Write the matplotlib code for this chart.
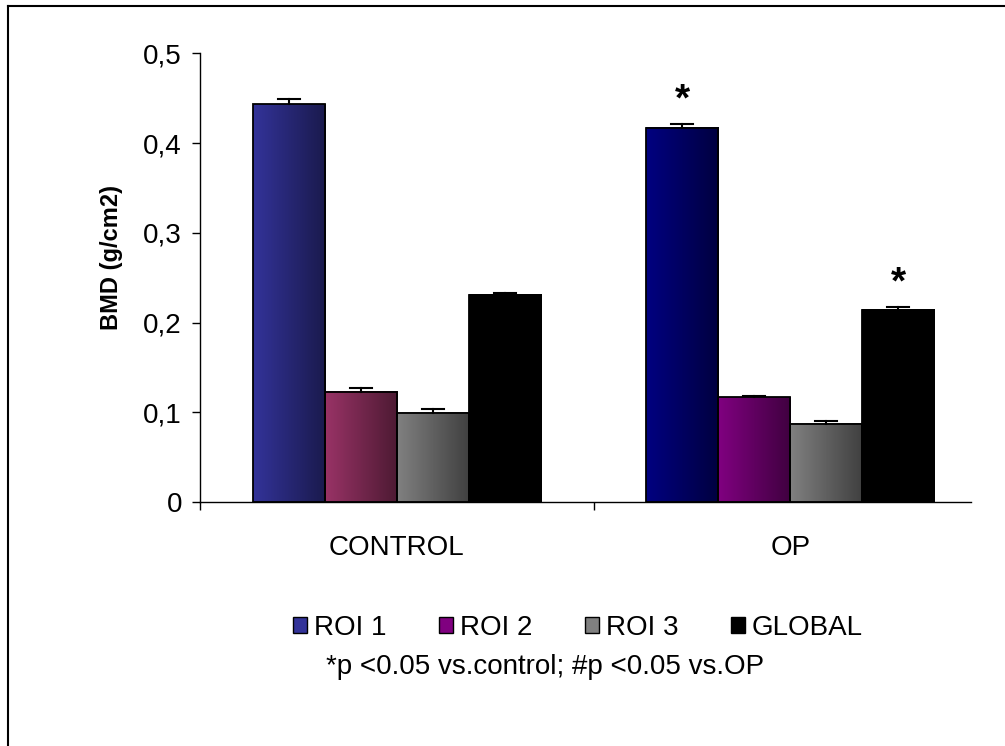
import numpy as np
import matplotlib
matplotlib.use("Agg")
import matplotlib.pyplot as plt
from matplotlib.colors import LinearSegmentedColormap
from matplotlib.patches import Rectangle
from matplotlib.lines import Line2D

plt.rcParams["font.family"] = ["Liberation Sans", "DejaVu Sans"]

# ── Data ──────────────────────────────────────────────────────────────────────
groups = ["CONTROL", "OP"]
series = ["ROI 1", "ROI 2", "ROI 3", "GLOBAL"]
bmd_control = [0.443, 0.123, 0.0995, 0.231]
bmd_op = [0.417, 0.1165, 0.087, 0.214]
sem_control = [0.006, 0.004, 0.004, 0.002]
sem_op = [0.0045, 0.002, 0.0035, 0.003]
signif_op = ["*", "", "", "*"]
footnote = "*p <0.05 vs.control; #p <0.05 vs.OP"

# gradient (left colour, right colour) per group and series
grad_control = [("#333399", "#1a1a4d"), ("#993366", "#4d1a33"),
                ("#808080", "#404040"), ("#000000", "#000000")]
grad_op = [("#000080", "#000040"), ("#800080", "#400040"),
           ("#808080", "#404040"), ("#000000", "#000000")]
legend_colors = ["#333399", "#800080", "#808080", "#000000"]

values = [bmd_control, bmd_op]
errors = [sem_control, sem_op]
grads = [grad_control, grad_op]

# ── Figure ────────────────────────────────────────────────────────────────────
fig = plt.figure(figsize=(10.05, 7.46), dpi=100)
W, H = 1005, 746
ax = fig.add_axes([200 / W, 1 - 502 / H, 787 / W, (502 - 53.3) / H])

bar_w = 0.183
n = len(series)
x_group = np.arange(len(groups))
ramp = np.linspace(0, 1, 64).reshape(1, -1)

for g, xc in enumerate(x_group):
    for s in range(n):
        x0 = xc - n * bar_w / 2 + s * bar_w
        h = values[g][s]
        cmap = LinearSegmentedColormap.from_list("g", grads[g][s])
        ax.imshow(ramp, cmap=cmap, extent=(x0, x0 + bar_w, 0, h),
                  aspect="auto", zorder=2, interpolation="bilinear")
        ax.add_patch(Rectangle((x0, 0), bar_w, h, fill=False,
                               edgecolor="black", lw=1.3, zorder=3))
        # upper error bar only
        xm = x0 + bar_w / 2
        top = h + errors[g][s]
        ax.plot([xm, xm], [h, top], color="black", lw=1.5, zorder=4)
        ax.plot([xm - 0.028, xm + 0.028], [top, top], color="black",
                lw=1.5, zorder=4)
        if g == 1 and signif_op[s]:
            ax.text(xm, top + 0.026, signif_op[s], ha="center", va="center",
                    fontsize=28, fontweight="bold")

ax.set_xlim(-0.5, 1.5)
ax.set_ylim(0, 0.5)

ax.spines["top"].set_visible(False)
ax.spines["right"].set_visible(False)
ax.spines["bottom"].set_bounds(-0.5, 1.46)
for sp in ("left", "bottom"):
    ax.spines[sp].set_linewidth(1.0)

ax.set_yticks([0, 0.1, 0.2, 0.3, 0.4, 0.5])
ax.set_yticklabels(["0", "0,1", "0,2", "0,3", "0,4", "0,5"], fontsize=20)
ax.tick_params(axis="y", direction="out", length=6, width=1, pad=7)

ax.set_xticks([-0.5, 0.5])
ax.set_xticklabels([])
ax.set_xticks(x_group, minor=True)
ax.set_xticklabels(groups, minor=True, fontsize=20)
ax.tick_params(axis="x", which="major", direction="out", length=6, width=1)
ax.tick_params(axis="x", which="minor", length=0, pad=24)

ax.set_ylabel("BMD (g/cm2)", fontsize=17, fontweight="bold")
ax.yaxis.set_label_coords((123 - 200) / 787, (502 - 257) / 448.7)

# legend
handles = [Rectangle((0, 0), 1, 1, facecolor=c, edgecolor="black", lw=1)
           for c in legend_colors]
fig.legend(handles, series, loc="center", bbox_to_anchor=(578 / W, 1 - 628 / H),
           ncol=4, frameon=False, fontsize=20, handlelength=0.5,
           handleheight=0.5, handletextpad=0.25, columnspacing=1.9)

fig.text(545 / W, 1 - 667 / H, footnote, ha="center", va="center",
         fontsize=20)

# outer frame (left and top edges)
fig.add_artist(Line2D([8 / W, 8 / W], [0, 1 - 6 / H], transform=fig.transFigure,
                      color="black", lw=1.5))
fig.add_artist(Line2D([8 / W, 1], [1 - 6 / H, 1 - 6 / H],
                      transform=fig.transFigure, color="black", lw=1.5))

fig.savefig("out.png", dpi=100)
